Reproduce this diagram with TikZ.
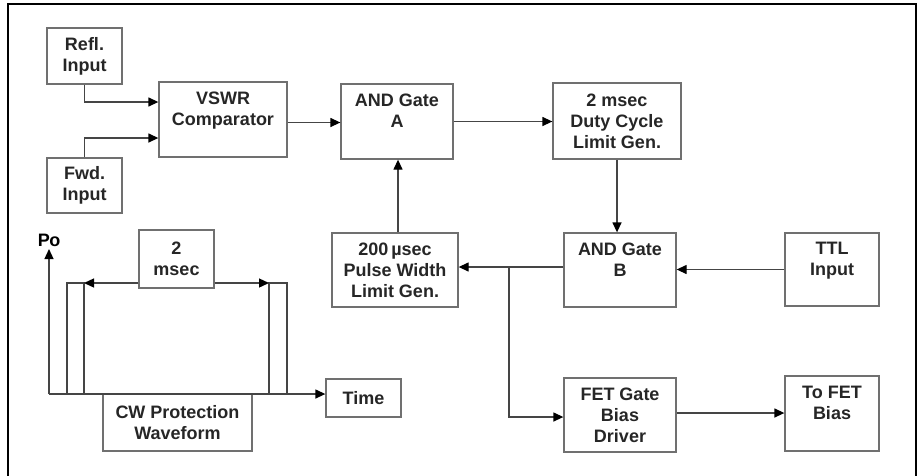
\documentclass[tikz,border=0pt]{standalone}
\usepackage{fontspec}
\setmainfont{Liberation Sans}
\usepackage{tikz}
\usetikzlibrary{arrows.meta,positioning}
\definecolor{bordgris}{HTML}{707070}
\definecolor{traitgris}{HTML}{454545}

\begin{document}
\begin{tikzpicture}[
    x=1pt, y=-1pt,
    font=\fontsize{18}{21}\selectfont\bfseries,
    bloc/.style={rectangle, draw=bordgris, line width=1.3pt, inner sep=0pt,
      align=center, text=black!85},
    fleche/.style={-{Triangle[length=10pt, width=9pt, color=black]},
      draw=traitgris, line width=1.3pt},
    trait/.style={draw=traitgris, line width=1.3pt}
  ]
    \useasboundingbox (0,0) rectangle (920,475);
    \draw[line width=1.6pt] (8,480) -- (8,4) -- (916,4) -- (916,480);
    % entrees et comparateur
    \node[bloc, minimum width=75, minimum height=56] (refl) at (84.5,56) {Refl.\\Input};
    \node[bloc, minimum width=75, minimum height=55] (fwd) at (84.5,185.5) {Fwd.\\Input};
    \node[bloc, minimum width=128, minimum height=75] (vswr) at (223,119.5) {VSWR\\Comparator\\~};
    \node[bloc, minimum width=112, minimum height=75] (anda) at (397,121.5) {AND Gate\\A\\~};
    \node[bloc, minimum width=128, minimum height=76] (duty) at (617,121) {2 msec\\Duty Cycle\\Limit Gen.};
    % ligne du milieu
    \node[bloc, minimum width=126, minimum height=74] (pulse) at (395,270) {200\,µsec\\Pulse Width\\Limit Gen.};
    \node[bloc, minimum width=112, minimum height=74] (andb) at (620,270) {AND Gate\\B\\~};
    \node[bloc, minimum width=94, minimum height=73] (ttl) at (832,269.5) {TTL\\Input\\~};
    \node[bloc, minimum width=112, minimum height=74] (fet) at (620,415) {FET Gate\\Bias\\Driver};
    \node[bloc, minimum width=94, minimum height=75] (tofet) at (832,413.5) {To FET\\Bias\\~};
    \draw[fleche] (refl.south) |- ([yshift=17.5pt]vswr.west);
    \draw[fleche] (fwd.north) |- ([yshift=-18.5pt]vswr.west);
    \draw[fleche] ([yshift=-3pt]vswr.east) -- ([yshift=-3pt]vswr.east -| anda.west);
    \draw[fleche] (anda.east) -- (anda.east -| duty.west);
    \draw[fleche] (duty.south) -- (duty.south |- andb.north);
    \draw[fleche] (ttl.west) -- (ttl.west -| andb.east);
    \draw[fleche] ([yshift=3pt]andb.west) -- ([yshift=3pt]andb.west -| pulse.east);
    \coordinate (branche) at (509,267);
    \draw[fleche] (branche) |- ([yshift=-2pt]fet.west);
    \draw[fleche] ([yshift=2pt]fet.east) -- ([yshift=2pt]fet.east -| tofet.west);
    \draw[fleche] ([xshift=3pt]pulse.north) -- ([xshift=3pt]pulse.north |- anda.south);
    % forme d'onde CW
    \node[bloc, minimum width=75, minimum height=58] (msec) at (176.5,259) {2\\msec};
    \node[bloc, minimum width=75, minimum height=38] (time) at (363.5,398) {Time};
    \node[bloc, minimum width=149, minimum height=57] (cw) at (177.5,422.5) {CW Protection\\Waveform};
    \node (po) at (49,240) {P\kern-0.5pt o};
    \coordinate (orig) at (49,394);
    \draw[fleche] (orig) -- (49,249);
    \draw[fleche] (orig) -- (orig -| time.west);
    \coordinate (g1) at (67,283);
    \coordinate (g2) at (84,283);
    \coordinate (d1) at (269,283);
    \coordinate (d2) at (287,283);
    \draw[trait] (g1 |- orig) -- (g1) -- (g2) -- (g2 |- orig);
    \draw[trait] (d1 |- orig) -- (d1) -- (d2) -- (d2 |- orig);
    \draw[fleche] (g1 -| msec.west) -- (g2);
    \draw[fleche] (d1 -| msec.east) -- (d1);
\end{tikzpicture}
\end{document}
